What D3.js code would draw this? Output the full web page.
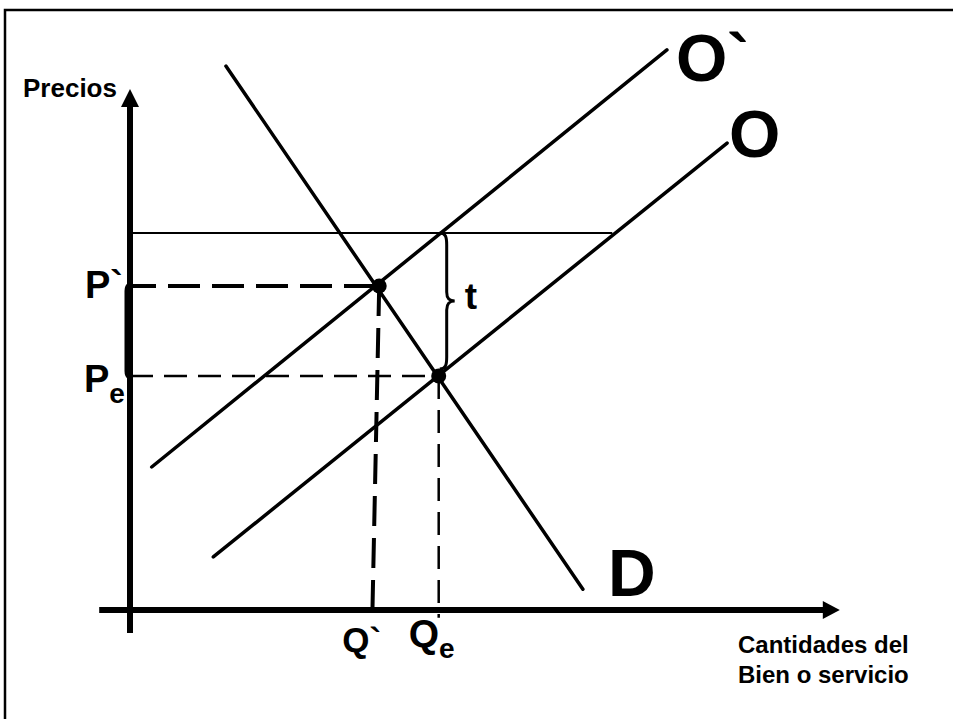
<!DOCTYPE html>
<html>
<head>
<meta charset="utf-8">
<script src="https://cdn.jsdelivr.net/npm/d3@7"></script>
<style>
  body { margin: 0; background: #fff; }
  text { font-family: "Liberation Sans", Arial, sans-serif; font-weight: bold; fill: #000; }
</style>
</head>
<body>
<div id="chart"></div>
<script>
// curves, [quantity, price]
var demand = [[1.37, 10.46], [6.47, 0.40]];
var supplyTax = [[0.31, 2.75], [7.67, 10.77]];
var supply = [[1.19, 1.02], [8.53, 8.98]];

// equilibria: with tax (P`, Q`) and without (Pe, Qe)
var eqTax = {q: 3.56, p: 6.23, qFoot: 3.46, pFoot: -0.23};
var eqBase = {q: 4.41, p: 4.50, qFoot: 4.41, pFoot: -0.15};

// thin price line at the top of the tax wedge
var taxLine = {p: 7.25, q0: 0, q1: 6.89};

var axisX = [-0.44, 10.14],
    axisY = [-0.44, 10.02];

var width = 953,
    height = 719;

var svg = d3.select("#chart")
  .append("svg")
  .attr("width", width)
  .attr("height", height);

var x = d3.scaleLinear().domain([0, 10]).range([130, 830]);
var y = d3.scaleLinear().domain([0, 10]).range([610, 90]);

var line = d3.line().x(d => x(d[0])).y(d => y(d[1]));

// frame (only top and left edges show)
svg.append("path")
  .attr("d", "M5," + height + " L5,10 L" + width + ",10")
  .attr("fill", "none")
  .attr("stroke", "#000")
  .attr("stroke-width", 2.5);

// tax line
svg.append("line")
  .attr("x1", x(taxLine.q0)).attr("x2", x(taxLine.q1))
  .attr("y1", y(taxLine.p)).attr("y2", y(taxLine.p))
  .attr("stroke", "#000").attr("stroke-width", 2);

// dashed guides
svg.append("line")
  .attr("x1", x(0)).attr("x2", x(eqTax.q))
  .attr("y1", y(eqTax.p)).attr("y2", y(eqTax.p))
  .attr("stroke", "#000").attr("stroke-width", 4)
  .attr("stroke-dasharray", "32,12").attr("stroke-dashoffset", 6);

svg.append("line")
  .attr("x1", x(eqTax.q)).attr("x2", x(eqTax.qFoot))
  .attr("y1", y(eqTax.p)).attr("y2", y(eqTax.pFoot))
  .attr("stroke", "#000").attr("stroke-width", 4)
  .attr("stroke-dasharray", "30,12");

svg.append("line")
  .attr("x1", x(0)).attr("x2", x(eqBase.q))
  .attr("y1", y(eqBase.p)).attr("y2", y(eqBase.p))
  .attr("stroke", "#000").attr("stroke-width", 2.5)
  .attr("stroke-dasharray", "23,11");

svg.append("line")
  .attr("x1", x(eqBase.q)).attr("x2", x(eqBase.qFoot))
  .attr("y1", y(eqBase.p)).attr("y2", y(eqBase.pFoot))
  .attr("stroke", "#000").attr("stroke-width", 2.5)
  .attr("stroke-dasharray", "23,11");

// curves
[demand, supplyTax, supply].forEach(function(c) {
  svg.append("path")
    .attr("d", line(c))
    .attr("fill", "none")
    .attr("stroke", "#000")
    .attr("stroke-width", 3.5)
    .attr("stroke-linecap", "round");
});

// axes
svg.append("line")
  .attr("x1", x(0)).attr("x2", x(0))
  .attr("y1", y(axisY[0])).attr("y2", y(axisY[1]) + 16)
  .attr("stroke", "#000").attr("stroke-width", 6);
svg.append("path")
  .attr("d", "M" + x(0) + "," + y(axisY[1]) + " l-9,18 l18,0 z")
  .attr("fill", "#000");

svg.append("line")
  .attr("x1", x(axisX[0])).attr("x2", x(axisX[1]) - 16)
  .attr("y1", y(0)).attr("y2", y(0))
  .attr("stroke", "#000").attr("stroke-width", 6);
svg.append("path")
  .attr("d", "M" + x(axisX[1]) + "," + y(0) + " l-17,-9 l0,18 z")
  .attr("fill", "#000");

// little bracket on the price axis between P` and Pe (sits against the axis)
var bx = x(0) - 4, bt = y(eqTax.p), bb = y(eqBase.p);
svg.append("path")
  .attr("d", "M" + (bx + 3) + "," + (bt - 2) + " Q" + bx + "," + bt + " " + bx + "," + (bt + 5) +
             " L" + bx + "," + (bb - 5) + " Q" + bx + "," + bb + " " + (bx + 3) + "," + (bb + 2))
  .attr("fill", "none").attr("stroke", "#000").attr("stroke-width", 3);

// brace for the tax t
var x0 = x(eqBase.q) + 1, y1 = y(taxLine.p), y2 = y(eqBase.p) - 7, mid = (y1 + y2) / 2;
svg.append("path")
  .attr("d",
    "M" + x0 + "," + y1 +
    " C" + (x0 + 6) + "," + y1 + " " + (x0 + 7) + "," + (y1 + 4) + " " + (x0 + 7) + "," + (y1 + 12) +
    " L" + (x0 + 7) + "," + (mid - 9) +
    " C" + (x0 + 7) + "," + (mid - 2) + " " + (x0 + 10) + "," + mid + " " + (x0 + 15) + "," + mid +
    " C" + (x0 + 10) + "," + mid + " " + (x0 + 7) + "," + (mid + 2) + " " + (x0 + 7) + "," + (mid + 9) +
    " L" + (x0 + 7) + "," + (y2 - 12) +
    " C" + (x0 + 7) + "," + (y2 - 4) + " " + (x0 + 6) + "," + y2 + " " + x0 + "," + y2)
  .attr("fill", "none").attr("stroke", "#000").attr("stroke-width", 3);

// equilibrium dots
[eqTax, eqBase].forEach(function(e) {
  svg.append("circle")
    .attr("cx", x(e.q)).attr("cy", y(e.p)).attr("r", 7.5)
    .attr("fill", "#000");
});

// labels
svg.append("text").attr("x", 23).attr("y", 97).style("font-size", "26px").text("Precios");

var xl = svg.append("text").attr("x", 738).attr("y", 653).style("font-size", "24px");
xl.append("tspan").attr("x", 738).text("Cantidades del");
xl.append("tspan").attr("x", 738).attr("dy", 30).text("Bien o servicio");

svg.append("text").attr("x", x(7.67) + 9).attr("y", 81).style("font-size", "66px").text("O`");
svg.append("text").attr("x", x(8.53) + 2).attr("y", 157).style("font-size", "66px").text("O");
svg.append("text").attr("x", x(6.47) + 25).attr("y", 596).style("font-size", "66px").text("D");

svg.append("text").attr("x", x(eqBase.q) + 26).attr("y", 309).style("font-size", "37px").text("t");

svg.append("text").attr("x", x(0) - 45).attr("y", y(eqTax.p) + 12)
  .style("font-size", "38px").text("P`");

var pe = svg.append("text").attr("x", x(0) - 46).attr("y", y(eqBase.p) + 16).style("font-size", "38px");
pe.append("tspan").text("P");
pe.append("tspan").attr("dy", 11).style("font-size", "28px").text("e");

svg.append("text").attr("x", x(eqTax.qFoot) - 30).attr("y", 652)
  .style("font-size", "35px").text("Q`");

var qe = svg.append("text").attr("x", x(eqBase.qFoot) - 30).attr("y", 647).style("font-size", "39px");
qe.append("tspan").text("Q");
qe.append("tspan").attr("dy", 11).style("font-size", "28px").text("e");
</script>
</body>
</html>
